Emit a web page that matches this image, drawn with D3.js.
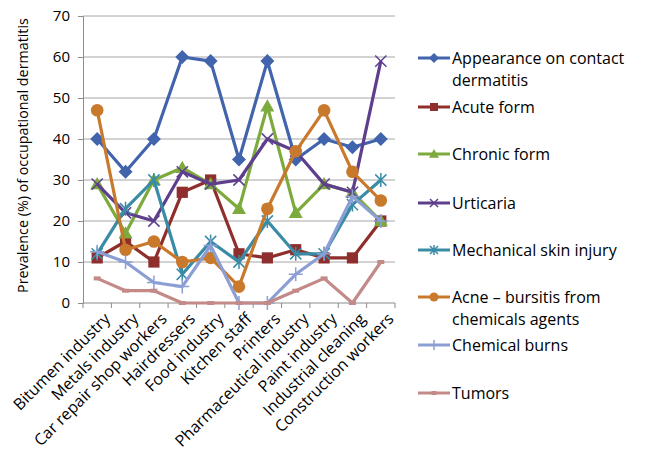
<!DOCTYPE html>
<html>
<head>
<meta charset="utf-8">
<script src="https://cdn.jsdelivr.net/npm/d3@7"></script>
<style>
  body { margin: 0; background: #fff; }
  svg { font-family: "Open Sans", sans-serif; }
</style>
</head>
<body>
<div id="chart"></div>
<script>
// categories on the x axis
var industries = ["Bitumen industry", "Metals industry", "Car repair shop workers", "Hairdressers",
  "Food industry", "Kitchen staff", "Printers", "Pharmaceutical industry", "Paint industry",
  "Industrial cleaning", "Construction workers"];

var appearance = [40, 32, 40, 60, 59, 35, 59, 35, 40, 38, 40];
var acute      = [11, 15, 10, 27, 30, 12, 11, 13, 11, 11, 20];
var chronic    = [29, 17, 30, 33, 29, 23, 48, 22, 29, 27, 20];
var urticaria  = [29, 22, 20, 32, 29, 30, 40, 37, 29, 27, 59];
var mechanical = [12, 23, 30, 7, 15, 10, 20, 12, 12, 24, 30];
var acne       = [47, 13, 15, 10, 11, 4, 23, 37, 47, 32, 25];
var burns      = [12.5, 10, 5, 4, 14, 0, 0, 7, 12, 26, 20];
var tumors     = [6, 3, 3, 0, 0, 0, 0, 3, 6, 0, 10];

var yTicks = [0, 10, 20, 30, 40, 50, 60, 70];

var series = [
  { name: ["Appearance on contact", "dermatitis"], values: appearance, color: "#4264AC", marker: "diamond" },
  { name: ["Acute form"], values: acute, color: "#8E2F2D", marker: "square" },
  { name: ["Chronic form"], values: chronic, color: "#7DAA3C", marker: "triangle" },
  { name: ["Urticaria"], values: urticaria, color: "#5E3F8E", marker: "x" },
  { name: ["Mechanical skin injury"], values: mechanical, color: "#3A8CA6", marker: "star" },
  { name: ["Acne \u2013 bursitis from", "chemicals agents"], values: acne, color: "#C8792C", marker: "circle" },
  { name: ["Chemical burns"], values: burns, color: "#8C9FD4", marker: "plus" },
  { name: ["Tumors"], values: tumors, color: "#C48A88", marker: "dash" }
];

var svgWidth = 645, svgHeight = 453;
var margin = { top: 16, right: 250, bottom: 150, left: 83 };
var width = svgWidth - margin.left - margin.right;
var height = svgHeight - margin.top - margin.bottom;

var svg = d3.select("#chart").append("svg")
  .attr("width", svgWidth)
  .attr("height", svgHeight);

var chartGroup = svg.append("g")
  .attr("transform", `translate(${margin.left}, ${margin.top})`);

var xBand = d3.scaleBand().domain(industries).range([0, width]);
var x = d => xBand(d) + xBand.bandwidth() / 2;
var y = d3.scaleLinear().domain([0, 70]).range([height, 0]);

// gridlines
chartGroup.append("g")
  .selectAll("line")
  .data(yTicks.slice(1))
  .enter()
  .append("line")
  .attr("x1", 0).attr("x2", width)
  .attr("y1", d => y(d)).attr("y2", d => y(d))
  .attr("stroke", "#a6a6a6")
  .attr("stroke-width", 1);

// y axis
var leftAxis = d3.axisLeft(y).tickValues(yTicks).tickSize(5).tickPadding(8);
var yAxisG = chartGroup.append("g").call(leftAxis);
yAxisG.select(".domain").attr("stroke", "#8c8c8c");
yAxisG.selectAll(".tick line").attr("stroke", "#8c8c8c");
yAxisG.selectAll("text").attr("font-size", "15px").attr("fill", "#000").style("font-family", "Open Sans");

// x axis: ticks at band boundaries
var xAxisG = chartGroup.append("g").attr("transform", `translate(0, ${height})`);
xAxisG.append("line").attr("x1", 0).attr("x2", width).attr("stroke", "#8c8c8c");
xAxisG.selectAll(".bnd")
  .data(d3.range(industries.length + 1))
  .enter()
  .append("line")
  .attr("x1", i => i * xBand.step()).attr("x2", i => i * xBand.step())
  .attr("y1", 0).attr("y2", 5)
  .attr("stroke", "#8c8c8c");
xAxisG.selectAll(".lbl")
  .data(industries)
  .enter()
  .append("text")
  .attr("transform", d => `translate(${x(d) + 6}, 9) rotate(-45)`)
  .attr("text-anchor", "end")
  .attr("dy", "0.7em")
  .attr("font-size", "16px")
  .text(d => d);

// y axis title
chartGroup.append("text")
  .attr("transform", "rotate(-90)")
  .attr("x", -height / 2 + 4)
  .attr("y", -margin.left + 28)
  .attr("text-anchor", "middle")
  .attr("font-size", "14.3px")
  .text("Prevalence (%) of occupational dermatitis");

function drawMarker(g, type, color, s) {
  if (type === "diamond") {
    g.append("path").attr("d", `M0,${-s}L${s},0L0,${s}L${-s},0Z`).attr("fill", color);
  } else if (type === "square") {
    g.append("rect").attr("x", -s * 0.8).attr("y", -s * 0.8).attr("width", s * 1.6).attr("height", s * 1.6).attr("fill", color);
  } else if (type === "triangle") {
    g.append("path").attr("d", `M0,${-s}L${s},${s * 0.75}L${-s},${s * 0.75}Z`).attr("fill", color);
  } else if (type === "circle") {
    g.append("circle").attr("r", s * 0.9).attr("fill", color);
  } else if (type === "x") {
    g.append("path").attr("d", `M${-s * 0.8},${-s * 0.8}L${s * 0.8},${s * 0.8}M${-s * 0.8},${s * 0.8}L${s * 0.8},${-s * 0.8}`)
      .attr("stroke", color).attr("stroke-width", 1.5);
  } else if (type === "star") {
    g.append("path").attr("d", `M${-s * 0.8},${-s * 0.8}L${s * 0.8},${s * 0.8}M${-s * 0.8},${s * 0.8}L${s * 0.8},${-s * 0.8}M0,${-s}L0,${s}`)
      .attr("stroke", color).attr("stroke-width", 1.5);
  } else if (type === "plus") {
    g.append("path").attr("d", `M${-s},0L${s},0M0,${-s}L0,${s}`)
      .attr("stroke", color).attr("stroke-width", 1.5);
  } else if (type === "dash") {
    g.append("path").attr("d", `M${-s * 0.5},0L${s * 0.5},0`)
      .attr("stroke", color).attr("stroke-width", 4);
  }
}

var line = d3.line()
  .x((d, i) => x(industries[i]))
  .y(d => y(d));

series.forEach(function (s) {
  var g = chartGroup.append("g");
  g.append("path")
    .datum(s.values)
    .attr("d", line)
    .attr("fill", "none")
    .attr("stroke", s.color)
    .attr("stroke-width", 3.2)
    .attr("stroke-linejoin", "round");
  s.values.forEach(function (v, i) {
    var m = g.append("g").attr("transform", `translate(${x(industries[i])}, ${y(v)})`);
    drawMarker(m, s.marker, s.color, 7);
  });
});

// legend
var legendY = [58, 107, 154, 203, 250, 297, 345, 393];
var legend = svg.append("g");
series.forEach(function (s, i) {
  var g = legend.append("g").attr("transform", `translate(418, ${legendY[i]})`);
  g.append("line").attr("x1", 0).attr("x2", 32).attr("stroke", s.color).attr("stroke-width", 3);
  var m = g.append("g").attr("transform", "translate(16, 0)");
  drawMarker(m, s.marker, s.color, 5);
  s.name.forEach(function (t, j) {
    g.append("text")
      .attr("x", 34)
      .attr("y", j * 22)
      .attr("dy", "0.35em")
      .attr("font-size", "16px")
      .text(t);
  });
});
</script>
</body>
</html>
